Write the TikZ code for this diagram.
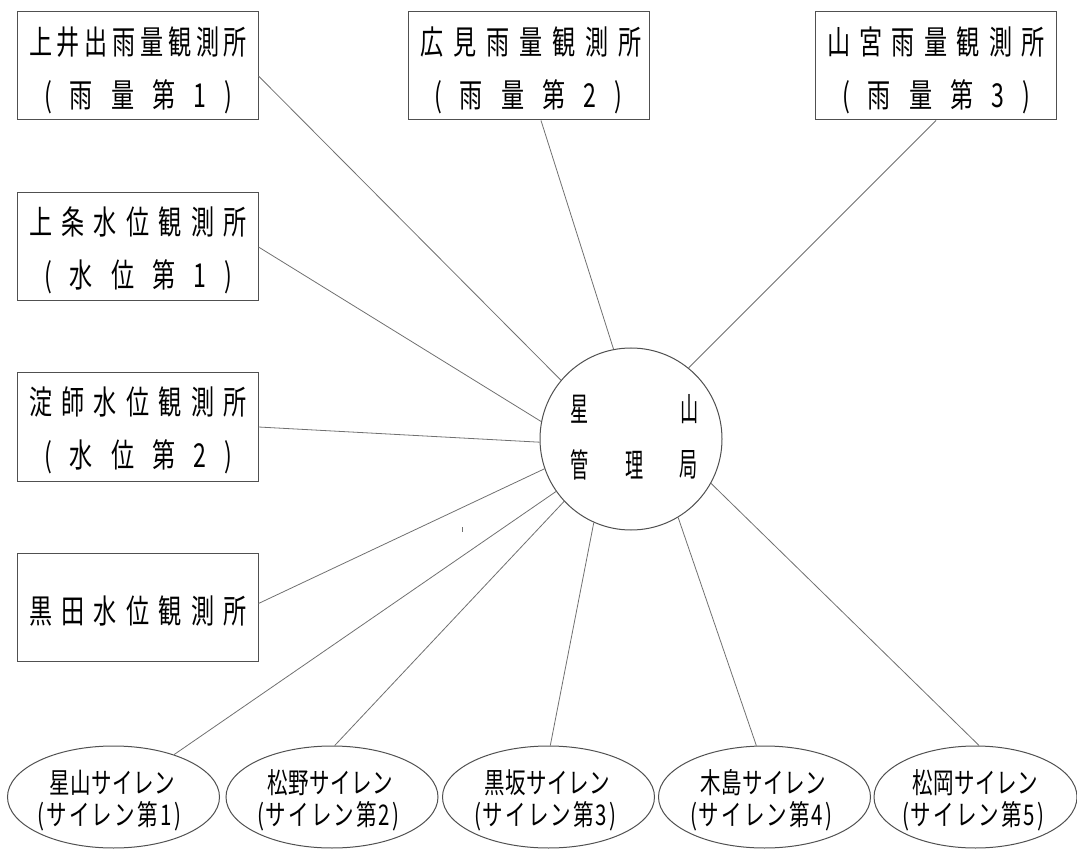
\documentclass[tikz,border=0pt]{standalone}
\usepackage{fontspec}
\setmainfont{Noto Sans CJK JP}
\usepackage{graphicx}
\usetikzlibrary{shapes.geometric}
\definecolor{boxc}{HTML}{505050}
\definecolor{linec}{HTML}{707070}
\makeatletter
\newcommand\spreadtext[3]{%
  \makebox[#1]{\def\sp@first{1}%
    \@tfor\sp@c:=#3\do{\ifx\sp@first\@empty\hfill\fi\def\sp@first{}\scalebox{#2}[1]{\sp@c}}}}
\makeatother
\begin{document}
\begin{tikzpicture}[x=1pt,y=-1pt,
  box/.style={draw=boxc,line width=1pt,minimum width=241pt,minimum height=108pt,inner sep=0pt},
  sta/.style={draw=boxc,ellipse,line width=1pt,minimum width=212pt,minimum height=102pt,inner sep=0pt},
  hub/.style={draw=boxc,circle,line width=1pt,minimum size=182pt,inner sep=0pt},
  lbl/.style={inner sep=0pt,anchor=center,font=\fontsize{33}{33}\selectfont},
  slbl/.style={inner sep=0pt,anchor=center,font=\fontsize{28.5}{28.5}\selectfont},
  clbl/.style={inner sep=0pt,anchor=center,font=\fontsize{33}{33}\selectfont},
  link/.style={draw=linec,line width=0.8pt}]
\useasboundingbox (0,0) rectangle (1077,850);
% boxes
\node[box] (b1) at (137.5,66) {};
\node[box] (b2) at (137.5,247) {};
\node[box] (b3) at (137.5,427) {};
\node[box] (b4) at (137.5,607.5) {};
\node[box] (b5) at (529,66) {};
\node[box] (b6) at (936,66) {};
% box labels
\node[lbl] (l1a) at (138,42) {\spreadtext{218pt}{0.7}{上井出雨量観測所}};
\node[lbl] (l1b) at (138,97) {\spreadtext{188pt}{0.7}{(雨量第1)}};
\node[lbl] (l2a) at (138,222) {\spreadtext{218pt}{0.7}{上条水位観測所}};
\node[lbl] (l2b) at (138,277) {\spreadtext{188pt}{0.7}{(水位第1)}};
\node[lbl] (l3a) at (138,402) {\spreadtext{218pt}{0.7}{淀師水位観測所}};
\node[lbl] (l3b) at (138,457) {\spreadtext{188pt}{0.7}{(水位第2)}};
\node[lbl] (l4a) at (138,611) {\spreadtext{218pt}{0.7}{黒田水位観測所}};
\node[lbl] (l5a) at (531,42) {\spreadtext{222pt}{0.7}{広見雨量観測所}};
\node[lbl] (l5b) at (528,97) {\spreadtext{188pt}{0.7}{(雨量第2)}};
\node[lbl] (l6a) at (936,42) {\spreadtext{218pt}{0.7}{山宮雨量観測所}};
\node[lbl] (l6b) at (936,97) {\spreadtext{188pt}{0.7}{(雨量第3)}};
% hub
\node[hub] (c) at (631,439) {};
\node[clbl] (h1) at (580,409) {\scalebox{0.55}[1]{星}};
\node[clbl] (h2) at (690,409) {\scalebox{0.55}[1]{山}};
\node[clbl] (h3) at (580,465) {\scalebox{0.55}[1]{管}};
\node[clbl] (h4) at (635,465) {\scalebox{0.55}[1]{理}};
\node[clbl] (h5) at (689,465) {\scalebox{0.55}[1]{局}};
% sirens
\node[sta] (e1) at (113.5,797) {};
\node[sta] (e2) at (332,797) {};
\node[sta] (e3) at (548.5,797) {};
\node[sta] (e4) at (764.5,797) {};
\node[sta,minimum width=203pt] (e5) at (975.5,797) {};
\node[slbl] (s1a) at (112,783) {\spreadtext{126pt}{0.72}{星山サイレン}};
\node[slbl] (s1b) at (109,816) {\spreadtext{144pt}{0.72}{(サイレン第1)}};
\node[slbl] (s2a) at (330,783) {\spreadtext{126pt}{0.72}{松野サイレン}};
\node[slbl] (s2b) at (328,816) {\spreadtext{142pt}{0.72}{(サイレン第2)}};
\node[slbl] (s3a) at (547,783) {\spreadtext{126pt}{0.72}{黒坂サイレン}};
\node[slbl] (s3b) at (545,816) {\spreadtext{142pt}{0.72}{(サイレン第3)}};
\node[slbl] (s4a) at (763,783) {\spreadtext{126pt}{0.72}{木島サイレン}};
\node[slbl] (s4b) at (761,816) {\spreadtext{142pt}{0.72}{(サイレン第4)}};
\node[slbl] (s5a) at (975,783) {\spreadtext{126pt}{0.72}{松岡サイレン}};
\node[slbl] (s5b) at (973,816) {\spreadtext{142pt}{0.72}{(サイレン第5)}};
% connectors
\draw[link] ([yshift=-10pt]b1.east) -- (c.140.7);
\draw[link] (b2.east) -- (c.169);
\draw[link] (b3.east) -- (c.182.6);
\draw[link] ([yshift=4pt]b4.east) -- (c.199.8);
\draw[link] ([xshift=12pt]b5.south) -- (c.101);
\draw[link] (b6.south) -- (c.51.2);
\draw[link] (e1.35.9) -- (c.215);
\draw[link] (e2.87) -- (c.223.7);
\draw[link] (e3.88) -- (c.246.6);
\draw[link] (e4.99) -- (c.301.6);
\draw[link] (e5.86) -- (c.331);
% stray tick
\coordinate (k1) at (462,527);
\coordinate (k2) at (462,532);
\draw[link] (k1) -- (k2);
\end{tikzpicture}
\end{document}
